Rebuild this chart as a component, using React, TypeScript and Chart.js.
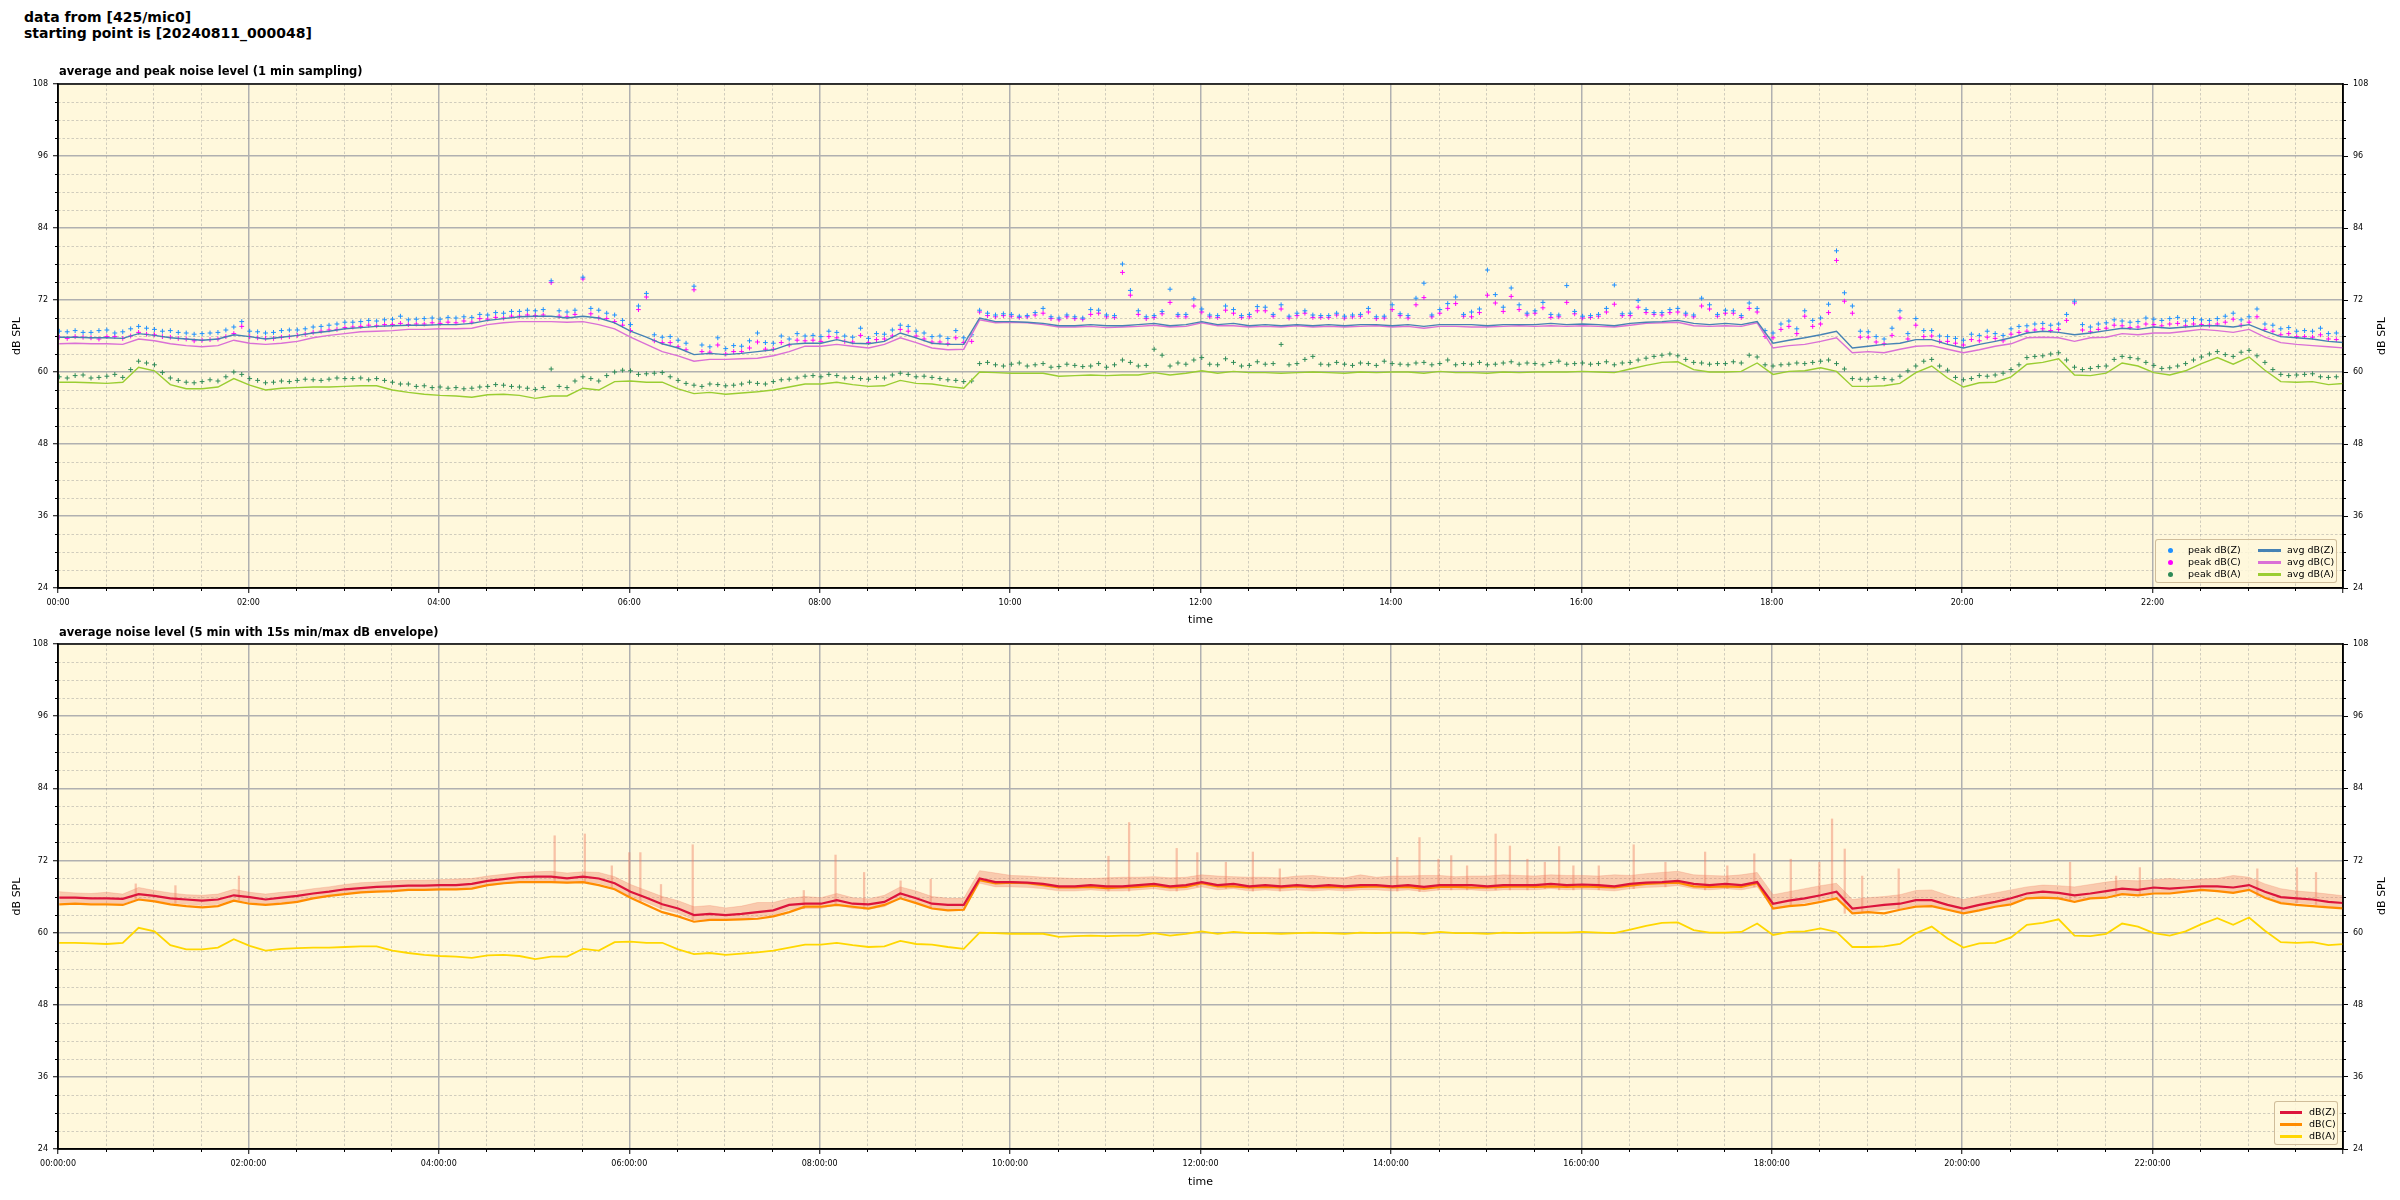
import React, { useEffect, useRef } from 'react';
import { Chart, registerables } from 'chart.js';

Chart.register(...registerables);

const FONT = '"DejaVu Sans", "Liberation Sans", sans-serif';
const BG = '#FFF8DC';
const MAJOR_GRID = '#b0b0b0';
const MINOR_GRID = 'rgba(150,150,150,0.55)';

// sampling of the arrays below: every 10 minutes, first sample at 00:00:48;
// the *_MID arrays hold the samples 5 minutes after each of those
const START_MIN = 0.8;
const STEP_MIN = 10;
const MID_OFFSET_MIN = 5;

const X_MIN = 0;
const X_MAX = 1440;
const X_MAJOR = 120;
const X_MINOR = 30;
const Y_MIN = 24;
const Y_MAX = 108;
const Y_MAJOR = 12;
const Y_MINOR = 3;

const MAIN_TITLE = ['data from [425/mic0]', 'starting point is [20240811_000048]'];
const TOP_TITLE = 'average and peak noise level (1 min sampling)';
const BOTTOM_TITLE = 'average noise level (5 min with 15s min/max dB envelope)';
const X_TITLE = 'time';
const Y_TITLE = 'dB SPL';

const AVG_Z = [
  65.8, 65.8, 65.7, 65.7, 65.6, 66.4, 66.1, 65.7, 65.5, 65.3,
  65.5, 66.2, 65.9, 65.5, 65.8, 66.1, 66.5, 66.8, 67.2, 67.4,
  67.6, 67.7, 67.8, 67.8, 67.9, 67.9, 68.1, 68.6, 68.9, 69.2,
  69.3, 69.3, 69.0, 69.3, 69.0, 68.2, 66.8, 65.8, 64.7, 64.0,
  62.9, 63.1, 62.9, 63.1, 63.4, 63.7, 64.6, 64.8, 64.8, 65.4,
  64.8, 64.7, 65.1, 66.5, 65.7, 64.8, 64.6, 64.6, 69.0, 68.4,
  68.4, 68.3, 68.1, 67.7, 67.7, 67.9, 67.7, 67.7, 67.9, 68.1,
  67.7, 67.9, 68.4, 67.9, 68.1, 67.7, 67.9, 67.7, 67.9, 67.7,
  67.9, 67.7, 67.9, 67.9, 67.7, 67.9, 67.6, 67.9, 67.9, 67.9,
  67.7, 67.9, 67.9, 67.9, 68.1, 67.9, 68.0, 67.9, 67.7, 68.1,
  68.3, 68.4, 68.6, 68.1, 67.9, 68.1, 67.9, 68.4, 64.8, 65.3,
  65.7, 66.2, 66.8, 64.0, 64.3, 64.6, 64.8, 65.4, 65.4, 64.6,
  64.0, 64.6, 65.1, 65.7, 66.5, 66.8, 66.6, 66.2, 66.5, 66.9,
  67.3, 67.1, 67.5, 67.3, 67.5, 67.7, 67.7, 67.5, 67.9, 66.8,
  65.9, 65.7, 65.5, 65.1, 64.9,
];

const AVG_C = [
  64.7, 64.8, 64.7, 64.7, 64.6, 65.5, 65.2, 64.7, 64.4, 64.2,
  64.4, 65.3, 64.8, 64.6, 64.8, 65.1, 65.7, 66.1, 66.4, 66.7,
  66.8, 66.9, 67.1, 67.1, 67.2, 67.2, 67.3, 67.9, 68.2, 68.4,
  68.4, 68.4, 68.3, 68.4, 67.9, 67.2, 65.8, 64.6, 63.4, 62.7,
  61.8, 62.1, 62.1, 62.2, 62.3, 62.7, 63.4, 64.3, 64.3, 64.6,
  64.3, 64.0, 64.6, 65.7, 64.9, 64.0, 63.7, 63.8, 68.7, 68.2,
  68.3, 68.2, 67.9, 67.5, 67.5, 67.6, 67.4, 67.5, 67.6, 67.8,
  67.5, 67.6, 68.2, 67.7, 67.7, 67.5, 67.6, 67.5, 67.7, 67.5,
  67.6, 67.5, 67.6, 67.7, 67.5, 67.6, 67.3, 67.6, 67.6, 67.5,
  67.5, 67.6, 67.7, 67.6, 67.7, 67.6, 67.7, 67.6, 67.5, 67.8,
  68.1, 68.2, 68.3, 67.7, 67.6, 67.7, 67.6, 68.2, 64.0, 64.4,
  64.6, 65.1, 65.7, 63.2, 63.4, 63.2, 63.8, 64.3, 64.4, 63.8,
  63.2, 63.7, 64.3, 64.7, 65.7, 65.8, 65.7, 65.1, 65.7, 65.8,
  66.4, 66.2, 66.5, 66.5, 66.8, 67.1, 66.9, 66.6, 67.1, 65.8,
  64.9, 64.6, 64.4, 64.2, 64.0,
];

const AVG_A = [
  58.3, 58.3, 58.2, 58.1, 58.3, 60.8, 60.2, 57.9, 57.2, 57.2,
  57.5, 58.9, 57.8, 57.0, 57.3, 57.4, 57.5, 57.5, 57.6, 57.7,
  57.7, 57.0, 56.6, 56.3, 56.1, 56.0, 55.8, 56.2, 56.3, 56.1,
  55.6, 56.0, 56.0, 57.3, 57.0, 58.4, 58.5, 58.3, 58.3, 57.2,
  56.4, 56.6, 56.3, 56.5, 56.7, 57.0, 57.5, 58.0, 58.0, 58.3,
  57.9, 57.6, 57.7, 58.6, 58.1, 58.0, 57.6, 57.3, 60.0, 59.9,
  59.8, 59.8, 59.8, 59.3, 59.4, 59.5, 59.4, 59.5, 59.5, 59.9,
  59.5, 59.8, 60.2, 59.8, 60.1, 59.9, 59.9, 59.8, 59.9, 60.0,
  59.9, 59.8, 60.0, 59.9, 60.0, 60.0, 59.8, 60.1, 59.9, 59.9,
  59.8, 60.0, 59.9, 60.0, 60.0, 60.0, 60.1, 60.0, 59.9, 60.5,
  61.1, 61.6, 61.7, 60.4, 60.0, 60.0, 60.1, 61.5, 59.6, 60.1,
  60.2, 60.7, 60.1, 57.6, 57.6, 57.7, 58.1, 59.9, 61.0, 59.0,
  57.5, 58.2, 58.3, 59.2, 61.3, 61.6, 62.2, 59.5, 59.4, 59.8,
  61.5, 61.0, 59.9, 59.5, 60.2, 61.4, 62.4, 61.3, 62.5, 60.3,
  58.4, 58.3, 58.4, 57.9, 58.1,
];

const PEAK_Z = [
  66.8, 66.9, 66.6, 67.0, 66.7, 67.6, 67.1, 66.9, 66.5, 66.4,
  66.6, 67.5, 66.8, 66.5, 66.9, 67.0, 67.5, 67.8, 68.3, 68.4,
  68.5, 68.8, 68.7, 68.9, 68.8, 69.0, 69.1, 69.5, 69.8, 70.1,
  70.2, 75.2, 70.0, 75.8, 70.3, 69.5, 67.9, 73.1, 65.8, 65.3,
  74.3, 64.2, 63.9, 64.3, 66.5, 64.8, 65.5, 66.0, 65.9, 66.6,
  65.8, 65.6, 66.3, 67.8, 66.8, 65.9, 65.6, 65.7, 70.3, 69.5,
  69.6, 69.4, 70.6, 69.0, 69.2, 70.4, 69.5, 78.0, 70.2, 69.4,
  73.8, 69.6, 70.5, 69.4, 70.4, 69.6, 70.8, 71.2, 69.8, 69.5,
  69.4, 69.3, 69.6, 69.2, 71.2, 69.4, 74.8, 70.4, 72.5, 70.0,
  77.0, 70.8, 71.2, 70.2, 69.6, 74.4, 69.3, 69.6, 74.5, 69.8,
  70.4, 69.9, 70.6, 69.5, 71.2, 70.3, 69.4, 70.6, 66.5, 68.5,
  70.2, 69.0, 80.2, 71.0, 66.7, 65.5, 70.2, 68.9, 66.9, 65.9,
  65.3, 66.1, 66.4, 67.2, 67.7, 68.1, 68.0, 71.8, 67.5, 68.2,
  68.5, 68.4, 68.8, 68.9, 68.5, 68.7, 68.9, 69.8, 69.2, 68.0,
  67.2, 66.8, 66.8, 66.4, 66.2,
];

const PEAK_Z_MID = [
  66.7, 66.6, 66.9, 66.5, 67.2, 67.3, 66.8, 66.6, 66.3, 66.5,
  67.0, 68.4, 66.7, 66.6, 67.0, 67.2, 67.6, 68.0, 68.3, 68.6,
  68.7, 69.3, 68.8, 69.0, 69.1, 69.2, 69.6, 69.9, 70.1, 70.3,
  70.4, 70.2, 70.3, 70.6, 69.8, 68.6, 71.0, 66.2, 65.9, 64.8,
  64.5, 65.7, 64.4, 65.2, 64.9, 66.0, 66.4, 66.1, 66.8, 66.0,
  67.3, 66.4, 67.0, 67.6, 66.5, 66.0, 66.9, 66.2, 69.8, 69.7,
  69.3, 69.9, 69.2, 69.5, 69.0, 70.3, 69.4, 73.6, 69.2, 70.1,
  69.6, 72.2, 69.5, 71.0, 69.4, 70.9, 69.6, 69.3, 70.2, 69.4,
  69.8, 69.5, 70.6, 69.3, 69.7, 72.3, 69.5, 71.4, 69.6, 70.5,
  72.9, 74.0, 69.8, 71.6, 69.5, 70.1, 69.4, 70.6, 69.7, 71.9,
  69.9, 70.4, 69.8, 72.3, 69.6, 70.2, 71.5, 66.9, 68.0, 67.2,
  68.6, 71.3, 73.2, 66.8, 65.9, 67.3, 66.4, 66.9, 66.0, 65.6,
  66.3, 66.8, 66.1, 67.6, 68.0, 67.8, 69.6, 67.9, 68.0, 68.7,
  68.3, 69.0, 68.6, 69.1, 68.9, 68.6, 69.3, 68.7, 70.5, 67.8,
  67.4, 66.9, 67.3, 66.5,
];

const PEAK_C = [
  65.8, 65.9, 65.7, 65.9, 65.6, 66.6, 66.2, 65.8, 65.5, 65.3,
  65.5, 66.4, 65.9, 65.6, 65.8, 66.1, 66.6, 67.0, 67.4, 67.6,
  67.7, 67.9, 67.9, 68.0, 68.1, 68.2, 68.3, 68.8, 69.0, 69.3,
  69.4, 74.9, 69.2, 75.5, 69.0, 68.4, 66.9, 72.5, 64.9, 64.2,
  73.7, 63.3, 63.0, 63.4, 65.0, 63.8, 64.5, 65.2, 65.1, 65.7,
  65.0, 64.9, 65.5, 67.1, 66.0, 65.0, 64.7, 64.9, 70.0, 69.2,
  69.3, 69.2, 69.8, 68.7, 68.9, 69.6, 69.2, 76.6, 69.6, 69.1,
  71.6, 69.2, 70.0, 69.1, 69.8, 69.2, 70.2, 70.5, 69.4, 69.1,
  69.1, 69.0, 69.3, 68.9, 70.4, 69.0, 72.4, 69.8, 71.4, 69.2,
  72.8, 70.1, 70.4, 69.8, 69.1, 71.6, 69.0, 69.3, 71.3, 69.4,
  69.9, 69.5, 70.0, 69.2, 70.5, 69.8, 69.1, 70.0, 65.7, 67.6,
  69.3, 68.0, 78.6, 69.8, 65.8, 64.7, 69.0, 67.8, 66.0, 65.1,
  64.5, 65.2, 65.6, 66.3, 66.8, 67.2, 67.1, 71.5, 66.7, 67.3,
  67.7, 67.5, 67.9, 68.0, 67.7, 67.9, 68.0, 68.8, 68.3, 67.1,
  66.2, 65.9, 65.8, 65.5, 65.2,
];

const PEAK_C_MID = [
  65.6, 65.8, 65.5, 65.9, 66.0, 66.3, 65.9, 65.6, 65.2, 65.4,
  65.9, 67.6, 65.7, 65.6, 65.9, 66.3, 66.8, 67.1, 67.5, 67.8,
  67.9, 68.1, 68.0, 68.2, 68.3, 68.5, 68.9, 69.1, 69.3, 69.5,
  69.5, 69.3, 69.6, 69.7, 68.9, 67.8, 70.4, 65.2, 64.9, 63.7,
  63.4, 64.5, 63.4, 64.0, 63.8, 64.9, 65.3, 65.3, 65.9, 65.1,
  66.1, 65.4, 66.0, 66.8, 65.5, 65.0, 65.7, 65.1, 69.4, 69.4,
  69.1, 69.5, 68.9, 69.2, 68.8, 69.8, 69.1, 72.8, 68.9, 69.7,
  69.3, 71.0, 69.2, 70.3, 69.1, 70.2, 69.3, 69.0, 69.8, 69.1,
  69.5, 69.2, 70.0, 69.0, 69.4, 71.2, 69.2, 70.6, 69.3, 69.9,
  71.5, 72.6, 69.5, 70.7, 69.2, 69.7, 69.1, 70.0, 69.4, 70.8,
  69.6, 69.9, 69.5, 71.0, 69.3, 69.8, 70.6, 65.9, 67.1, 66.4,
  67.6, 69.9, 71.8, 65.8, 65.0, 66.1, 65.5, 65.9, 65.1, 64.8,
  65.4, 65.8, 65.2, 66.6, 67.0, 66.9, 68.6, 67.0, 67.1, 67.8,
  67.4, 68.0, 67.7, 68.1, 68.0, 67.8, 68.3, 67.8, 69.2, 66.8,
  66.4, 65.9, 66.2, 65.4,
];

const PEAK_A = [
  59.2, 59.4, 59.0, 59.3, 59.1, 61.8, 61.2, 59.0, 58.3, 58.4,
  58.5, 60.0, 58.9, 58.2, 58.5, 58.6, 58.7, 58.8, 58.9, 59.0,
  58.9, 58.3, 58.0, 57.7, 57.5, 57.4, 57.3, 57.6, 57.8, 57.5,
  57.1, 60.5, 57.4, 59.2, 58.5, 60.0, 60.2, 59.7, 59.9, 58.6,
  57.8, 58.0, 57.7, 58.0, 58.1, 58.4, 58.8, 59.3, 59.2, 59.4,
  59.1, 58.8, 59.0, 59.8, 59.2, 59.1, 58.7, 58.4, 61.4, 61.2,
  61.3, 61.0, 61.4, 60.9, 61.1, 61.0, 60.8, 62.0, 61.0, 63.8,
  61.0, 61.3, 62.4, 61.2, 61.6, 61.1, 61.3, 64.6, 61.4, 62.6,
  61.2, 61.3, 61.5, 61.1, 61.4, 61.2, 61.6, 61.4, 61.2, 61.3,
  61.2, 61.5, 61.3, 61.4, 61.6, 61.3, 61.5, 61.4, 61.2, 61.6,
  62.3, 62.8, 62.7, 61.6, 61.3, 61.4, 61.5, 62.5, 61.0, 61.3,
  61.4, 61.8, 61.4, 58.9, 58.8, 58.9, 59.3, 61.0, 62.1, 60.3,
  58.7, 59.4, 59.5, 60.4, 62.4, 62.7, 63.2, 60.8, 60.6, 61.0,
  62.6, 62.2, 61.1, 60.7, 61.4, 62.5, 63.4, 62.6, 63.6, 61.6,
  59.6, 59.5, 59.7, 59.1, 59.3,
];

const PEAK_A_MID = [
  59.0, 59.5, 59.1, 59.6, 60.4, 61.5, 59.9, 58.6, 58.2, 58.7,
  59.2, 59.6, 58.6, 58.3, 58.4, 58.8, 58.6, 59.0, 58.9, 58.7,
  58.6, 58.0, 57.6, 57.4, 57.3, 57.2, 57.5, 57.9, 57.6, 57.3,
  57.4, 57.6, 58.5, 58.9, 59.4, 60.3, 59.6, 59.8, 59.2, 58.1,
  57.6, 57.9, 57.8, 58.3, 58.0, 58.7, 59.0, 59.4, 59.6, 59.0,
  58.9, 59.1, 59.5, 59.6, 59.3, 58.9, 58.6, 58.5, 61.6, 61.0,
  61.5, 61.2, 60.8, 61.3, 60.9, 61.4, 61.2, 61.6, 61.1, 62.8,
  61.5, 62.0, 61.3, 62.2, 61.0, 61.7, 61.4, 61.2, 62.1, 61.3,
  61.6, 61.1, 61.4, 61.8, 61.3, 61.5, 61.2, 62.0, 61.4, 61.6,
  61.3, 61.7, 61.5, 61.2, 61.8, 61.4, 61.3, 61.7, 61.5, 62.0,
  62.6, 63.0, 62.1, 61.5, 61.4, 61.7, 62.8, 61.2, 61.2, 61.5,
  61.6, 62.0, 60.5, 58.8, 59.1, 58.7, 60.2, 61.8, 61.0, 59.1,
  58.9, 59.3, 59.8, 61.2, 62.6, 63.0, 62.0, 60.4, 60.9, 62.1,
  62.4, 61.6, 60.6, 61.0, 62.0, 63.0, 62.9, 63.3, 62.7, 60.4,
  59.4, 59.6, 59.2, 59.2,
];

// 15 s min/max envelope (bottom chart): band limits every 10 minutes
const ENV_UPPER = [
  66.8, 66.6, 66.5, 66.7, 66.4, 67.5, 67.0, 66.6, 66.3, 66.2,
  66.4, 67.2, 66.7, 66.4, 66.7, 66.9, 67.3, 67.6, 68.0, 68.3,
  68.4, 68.6, 68.7, 68.7, 68.8, 68.9, 69.0, 69.4, 69.7, 70.0,
  70.1, 70.2, 69.9, 70.1, 70.0, 69.3, 68.0, 67.0, 66.0, 65.3,
  64.3, 64.5, 64.1, 64.4, 65.0, 65.0, 65.7, 66.0, 65.8, 66.5,
  65.8, 65.6, 66.2, 67.6, 66.9, 66.0, 65.7, 65.7, 70.3, 69.9,
  69.5, 69.4, 69.2, 69.1, 69.0, 69.0, 69.1, 69.2, 69.2, 69.3,
  69.1, 69.2, 69.6, 69.4, 69.3, 69.2, 69.2, 69.1, 69.4, 69.5,
  69.2, 69.1, 69.6, 69.2, 69.4, 69.4, 69.5, 69.5, 69.3, 69.4,
  69.4, 69.6, 69.5, 69.4, 69.6, 69.5, 69.5, 69.4, 69.6, 69.5,
  69.8, 70.0, 70.2, 69.6, 69.5, 69.4, 69.6, 70.0, 66.3, 66.8,
  67.3, 67.8, 68.2, 65.5, 65.8, 66.0, 66.3, 67.0, 67.1, 66.2,
  65.5, 66.1, 66.6, 67.1, 67.6, 67.9, 67.8, 67.6, 68.0, 68.4,
  68.7, 68.6, 68.8, 69.0, 68.7, 68.9, 69.0, 69.5, 69.2, 68.1,
  67.3, 66.9, 66.7, 66.4, 66.1,
];

const ENV_LOWER = [
  65.0, 65.0, 64.9, 64.9, 64.8, 65.6, 65.3, 64.9, 64.7, 64.5,
  64.7, 65.4, 65.1, 64.7, 65.0, 65.3, 65.7, 66.0, 66.4, 66.6,
  66.8, 66.9, 67.0, 67.0, 67.1, 67.1, 67.3, 67.8, 68.1, 68.4,
  68.5, 68.5, 68.2, 68.5, 68.2, 67.4, 66.0, 65.0, 63.9, 63.2,
  62.1, 62.3, 62.1, 62.3, 62.6, 62.9, 63.8, 64.0, 64.0, 64.6,
  64.0, 63.9, 64.3, 65.7, 64.9, 64.0, 63.8, 63.8, 68.2, 67.6,
  67.6, 67.5, 67.3, 66.9, 66.9, 67.1, 66.9, 66.9, 67.1, 67.3,
  66.9, 67.1, 67.6, 67.1, 67.3, 66.9, 67.1, 66.9, 67.1, 66.9,
  67.1, 66.9, 67.1, 67.1, 66.9, 67.1, 66.8, 67.1, 67.1, 67.1,
  66.9, 67.1, 67.1, 67.1, 67.3, 67.1, 67.2, 67.1, 66.9, 67.3,
  67.5, 67.6, 67.8, 67.3, 67.1, 67.3, 67.1, 67.6, 64.0, 64.5,
  64.9, 65.4, 66.0, 63.2, 63.5, 63.8, 64.0, 64.6, 64.6, 63.8,
  63.2, 63.8, 64.3, 64.9, 65.7, 66.0, 65.8, 65.4, 65.7, 66.1,
  66.5, 66.3, 66.7, 66.5, 66.7, 66.9, 66.9, 66.7, 67.1, 66.0,
  65.1, 64.9, 64.7, 64.3, 64.1,
];

// isolated 15 s maxima sticking out of the envelope (minute of day, dB)
const SPIKE_TIMES = [
  49, 74, 114, 313, 332, 349, 360, 367, 380, 400, 470,
  490, 508, 531, 550, 662, 675, 705, 718, 736, 753, 770,
  844, 858, 870, 878, 888, 906, 915, 926, 937, 946, 955,
  971, 993, 1013, 1038, 1052, 1069, 1092, 1110, 1118, 1126, 1137, 1160,
  1268, 1297, 1312, 1386, 1411, 1423,
];
const SPIKE_TOPS = [
  68.1, 67.8, 69.4, 76.1, 76.4, 71.1, 73.3, 73.3, 68.0, 74.6, 67.0,
  72.9, 70.0, 68.6, 68.9, 72.7, 78.3, 74.0, 73.3, 71.7, 73.4, 70.6,
  72.5, 75.8, 72.2, 72.8, 71.1, 76.4, 74.4, 72.2, 71.7, 74.3, 71.1,
  71.1, 74.6, 71.7, 73.4, 71.1, 73.1, 72.2, 71.7, 78.9, 73.9, 69.4, 70.6,
  71.7, 69.4, 70.8, 70.6, 70.8, 70.0,
];

const COLORS = {
  peakZ: '#1E90FF',
  peakC: '#FF00FF',
  peakA: '#2E8B57',
  avgZ: '#4682B4',
  avgC: '#DA70D6',
  avgA: '#9ACD32',
  z: '#DC143C',
  c: '#FF8C00',
  a: '#FFD700',
  envFill: 'rgba(240,128,100,0.38)',
  envLine: 'rgba(240,128,100,0.35)',
  spike: 'rgba(240,128,100,0.45)',
};

const toPts = (arr: number[]) => arr.map((v, i) => ({ x: START_MIN + i * STEP_MIN, y: v }));
const toMidPts = (arr: number[]) => arr.map((v, i) => ({ x: START_MIN + MID_OFFSET_MIN + i * STEP_MIN, y: v }));
const spikePts = () =>
  SPIKE_TIMES.map((t, i) => {
    const k = Math.min(ENV_LOWER.length - 1, Math.max(0, Math.round((t - START_MIN) / STEP_MIN)));
    return { x: t, y: [ENV_LOWER[k], SPIKE_TOPS[i]] };
  });
const pad2 = (n: number) => String(n).padStart(2, '0');
const fmtHM = (v: number) => (v >= X_MAX ? '' : `${pad2(Math.floor(v / 60))}:${pad2(v % 60)}`);
const fmtHMS = (v: number) => (v >= X_MAX ? '' : `${pad2(Math.floor(v / 60))}:${pad2(v % 60)}:00`);

const decorPlugin = {
  id: 'decor',
  beforeDraw(chart: any) {
    const { ctx, chartArea: a } = chart;
    ctx.save();
    ctx.fillStyle = BG;
    ctx.fillRect(a.left, a.top, a.right - a.left, a.bottom - a.top);
    ctx.restore();
  },
  beforeDatasetsDraw(chart: any) {
    const { ctx, chartArea: a, scales } = chart;
    const xs = scales.x;
    const ys = scales.y;
    ctx.save();
    ctx.strokeStyle = MINOR_GRID;
    ctx.lineWidth = 0.8;
    ctx.setLineDash([2.5, 2]);
    const xMinor: number[] = [];
    for (let v = X_MIN + X_MINOR; v < X_MAX; v += X_MINOR) if (v % X_MAJOR !== 0) xMinor.push(v);
    const yMinor: number[] = [];
    for (let v = Y_MIN + Y_MINOR; v < Y_MAX; v += Y_MINOR) if ((v - Y_MIN) % Y_MAJOR !== 0) yMinor.push(v);
    xMinor.forEach((v) => {
      const px = Math.round(xs.getPixelForValue(v)) + 0.5;
      ctx.beginPath();
      ctx.moveTo(px, a.top);
      ctx.lineTo(px, a.bottom);
      ctx.stroke();
    });
    yMinor.forEach((v) => {
      const py = Math.round(ys.getPixelForValue(v)) + 0.5;
      ctx.beginPath();
      ctx.moveTo(a.left, py);
      ctx.lineTo(a.right, py);
      ctx.stroke();
    });
    ctx.setLineDash([]);
    ctx.strokeStyle = '#000';
    ctx.lineWidth = 1;
    xMinor.forEach((v) => {
      const px = Math.round(xs.getPixelForValue(v)) + 0.5;
      ctx.beginPath();
      ctx.moveTo(px, a.bottom);
      ctx.lineTo(px, a.bottom + 3);
      ctx.stroke();
    });
    yMinor.forEach((v) => {
      const py = Math.round(ys.getPixelForValue(v)) + 0.5;
      ctx.beginPath();
      ctx.moveTo(a.left - 3, py);
      ctx.lineTo(a.left, py);
      ctx.moveTo(a.right, py);
      ctx.lineTo(a.right + 3, py);
      ctx.stroke();
    });
    ctx.restore();
  },
  afterDatasetsDraw(chart: any) {
    const { ctx, chartArea: a } = chart;
    ctx.save();
    ctx.strokeStyle = '#000';
    ctx.lineWidth = 1.5;
    ctx.strokeRect(a.left, a.top, a.right - a.left, a.bottom - a.top);
    ctx.restore();
  },
};

const tickFont = { family: FONT, size: 8 };
const titleFont = { family: FONT, size: 11 };

function buildChart(canvas: HTMLCanvasElement, datasets: any[], padTop: number, xAxisHeight: number, xTitlePad: number, fmt: (v: number) => string) {
  return new Chart(canvas, {
    type: 'line',
    data: { datasets },
    options: {
      responsive: false,
      animation: false,
      events: [],
      layout: { padding: { top: padTop, left: 0, right: 0, bottom: 0 } },
      plugins: { legend: { display: false }, tooltip: { enabled: false }, title: { display: false } },
      scales: {
        x: {
          type: 'linear',
          min: X_MIN,
          max: X_MAX,
          offset: false,
          afterFit: (s: any) => { s.height = xAxisHeight; },
          ticks: { stepSize: X_MAJOR, autoSkip: false, maxRotation: 0, font: tickFont, color: '#000', padding: 5, callback: (v: any) => fmt(Number(v)) },
          grid: { color: MAJOR_GRID, lineWidth: 1.5, tickLength: 5, tickColor: '#000', tickWidth: 1, offset: false },
          border: { color: '#000', width: 1.5 },
          title: { display: true, text: X_TITLE, font: titleFont, color: '#000', padding: { top: 0, bottom: xTitlePad } },
        },
        y: {
          type: 'linear',
          position: 'left',
          min: Y_MIN,
          max: Y_MAX,
          afterFit: (s: any) => { s.width = 58; },
          ticks: { stepSize: Y_MAJOR, font: tickFont, color: '#000', padding: 5 },
          grid: { color: MAJOR_GRID, lineWidth: 1.5, tickLength: 5, tickColor: '#000', tickWidth: 1 },
          border: { color: '#000', width: 1.5 },
          title: { display: true, text: Y_TITLE, font: titleFont, color: '#000', padding: { top: 11, bottom: 0 } },
        },
        y2: {
          type: 'linear',
          position: 'right',
          min: Y_MIN,
          max: Y_MAX,
          afterFit: (s: any) => { s.width = 57; },
          ticks: { stepSize: Y_MAJOR, font: tickFont, color: '#000', padding: 5 },
          grid: { drawOnChartArea: false, tickLength: 5, tickColor: '#000', tickWidth: 1 },
          border: { color: '#000', width: 1.5 },
        },
      },
    } as any,
    plugins: [decorPlugin],
  });
}

const lineDs = (label: string, arr: number[], color: string, width: number, order = 0) => ({
  label,
  data: toPts(arr),
  borderColor: color,
  backgroundColor: color,
  borderWidth: width,
  pointRadius: 0,
  tension: 0,
  fill: false,
  order,
});

const peakDs = (label: string, arr: number[], mid: number[], color: string) => ({
  label,
  data: [...toPts(arr), ...toMidPts(mid)],
  showLine: false,
  pointStyle: 'cross',
  pointRadius: 2.4,
  pointBorderWidth: 1,
  borderColor: color,
  backgroundColor: color,
  borderWidth: 1,
  order: 1,
});

const TOP_LEGEND = [
  { label: 'peak dB(Z)', color: COLORS.peakZ, kind: 'dot', col: 0, row: 0 },
  { label: 'peak dB(C)', color: COLORS.peakC, kind: 'dot', col: 0, row: 1 },
  { label: 'peak dB(A)', color: COLORS.peakA, kind: 'dot', col: 0, row: 2 },
  { label: 'avg dB(Z)', color: COLORS.avgZ, kind: 'line', col: 1, row: 0 },
  { label: 'avg dB(C)', color: COLORS.avgC, kind: 'line', col: 1, row: 1 },
  { label: 'avg dB(A)', color: COLORS.avgA, kind: 'line', col: 1, row: 2 },
];
const BOTTOM_LEGEND = [
  { label: 'dB(Z)', color: COLORS.z, kind: 'line', col: 0, row: 0 },
  { label: 'dB(C)', color: COLORS.c, kind: 'line', col: 0, row: 1 },
  { label: 'dB(A)', color: COLORS.a, kind: 'line', col: 0, row: 2 },
];

function Legend({ left, top, width, items, colX }: { left: number; top: number; width: number; items: any[]; colX: { marker: number; markerW: number; text: number }[] }) {
  return (
    <div style={{ position: 'absolute', left, top, width, height: 44, boxSizing: 'border-box', border: '1px solid rgba(205,185,150,0.95)', borderRadius: 3, background: 'rgba(255,248,220,0.85)', zIndex: 2 }}>
      {items.map((it) => {
        const c = colX[it.col];
        const cy = 10.5 + it.row * 12;
        return (
          <React.Fragment key={it.label}>
            {it.kind === 'dot' ? (
              <div style={{ position: 'absolute', left: c.marker - 2.5, top: cy - 2.5, width: 5, height: 5, borderRadius: '50%', background: it.color }} />
            ) : (
              <div style={{ position: 'absolute', left: c.marker, top: cy - 1.5, width: c.markerW, height: 3, background: it.color }} />
            )}
            <div style={{ position: 'absolute', left: c.text, top: cy - 6.5, lineHeight: '12px', fontSize: 9.5, whiteSpace: 'nowrap', color: '#000' }}>{it.label}</div>
          </React.Fragment>
        );
      })}
    </div>
  );
}

export default function App() {
  const topRef = useRef<HTMLCanvasElement>(null);
  const botRef = useRef<HTMLCanvasElement>(null);

  useEffect(() => {
    document.body.style.margin = '0';
    document.body.style.overflow = 'hidden';
    const c1 = buildChart(
      topRef.current as HTMLCanvasElement,
      [
        lineDs('avg dB(Z)', AVG_Z, COLORS.avgZ, 1.4),
        lineDs('avg dB(C)', AVG_C, COLORS.avgC, 1.4),
        lineDs('avg dB(A)', AVG_A, COLORS.avgA, 1.4),
        peakDs('peak dB(Z)', PEAK_Z, PEAK_Z_MID, COLORS.peakZ),
        peakDs('peak dB(C)', PEAK_C, PEAK_C_MID, COLORS.peakC),
        peakDs('peak dB(A)', PEAK_A, PEAK_A_MID, COLORS.peakA),
      ],
      14,
      42,
      3,
      fmtHM,
    );
    const c2 = buildChart(
      botRef.current as HTMLCanvasElement,
      [
        lineDs('dB(Z)', AVG_Z, COLORS.z, 2.2),
        lineDs('dB(C)', AVG_C, COLORS.c, 2.2),
        lineDs('dB(A)', AVG_A, COLORS.a, 1.8),
        { label: 'max', data: toPts(ENV_UPPER), borderColor: COLORS.envLine, backgroundColor: COLORS.envFill, borderWidth: 0.8, pointRadius: 0, tension: 0, fill: '+1', order: 2 },
        { label: 'min', data: toPts(ENV_LOWER), borderColor: COLORS.envLine, backgroundColor: COLORS.envFill, borderWidth: 0.5, pointRadius: 0, tension: 0, fill: false, order: 2 },
        { type: 'bar', label: 'spikes', data: spikePts(), backgroundColor: COLORS.spike, borderWidth: 0, barThickness: 1.6, grouped: false, order: 3 },
      ],
      12,
      51,
      11,
      fmtHMS,
    );
    return () => {
      c1.destroy();
      c2.destroy();
    };
  }, []);

  const sideTitle = (cy: number) => (
    <div style={{ position: 'absolute', left: 2381, top: cy, transform: 'translate(-50%, -50%) rotate(-90deg)', fontSize: 11, whiteSpace: 'nowrap', color: '#000', zIndex: 2 }}>{Y_TITLE}</div>
  );

  return (
    <div style={{ position: 'absolute', left: 0, top: 0, width: 2400, height: 1200, background: '#fff', fontFamily: FONT, overflow: 'hidden' }}>
      <div style={{ position: 'absolute', left: 24, top: 10, fontSize: 14, fontWeight: 'bold', lineHeight: '15.5px', color: '#000', zIndex: 2 }}>
        <div>{MAIN_TITLE[0]}</div>
        <div>{MAIN_TITLE[1]}</div>
      </div>
      <div style={{ position: 'absolute', left: 59, top: 64, fontSize: 11.5, fontWeight: 'bold', lineHeight: '14px', whiteSpace: 'nowrap', color: '#000', zIndex: 2 }}>{TOP_TITLE}</div>
      <div style={{ position: 'absolute', left: 59, top: 625, fontSize: 11.5, fontWeight: 'bold', lineHeight: '14px', whiteSpace: 'nowrap', color: '#000', zIndex: 2 }}>{BOTTOM_TITLE}</div>
      <canvas ref={topRef} width={2400} height={560} style={{ position: 'absolute', left: 0, top: 70, width: 2400, height: 560 }} />
      <canvas ref={botRef} width={2400} height={568} style={{ position: 'absolute', left: 0, top: 632, width: 2400, height: 568 }} />
      {sideTitle(336)}
      {sideTitle(896)}
      <Legend left={2155} top={539} width={182} items={TOP_LEGEND} colX={[{ marker: 14, markerW: 0, text: 32 }, { marker: 102, markerW: 23, text: 131 }]} />
      <Legend left={2274} top={1101} width={64} items={BOTTOM_LEGEND} colX={[{ marker: 5, markerW: 22, text: 34 }]} />
    </div>
  );
}
